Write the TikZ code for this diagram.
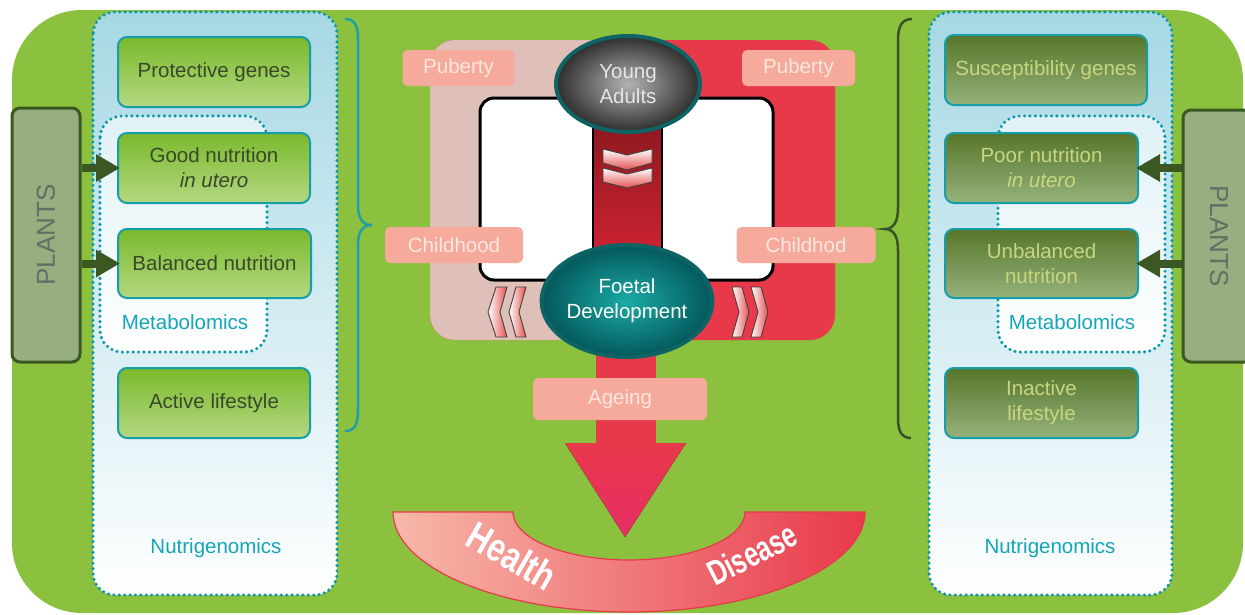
\documentclass[tikz,border=0pt]{standalone}
\usepackage{fontspec}
\setmainfont{Liberation Sans}
\usetikzlibrary{shapes.geometric,arrows.meta}
\definecolor{bggreen}{RGB}{139,193,63}
\definecolor{tealb}{RGB}{22,158,168}
\definecolor{dotc}{RGB}{10,150,172}
\definecolor{lblue}{RGB}{166,216,228}
\definecolor{boxtop}{RGB}{122,186,44}
\definecolor{boxbot}{RGB}{180,216,130}
\definecolor{boxtext}{RGB}{58,72,42}
\definecolor{dboxtop}{RGB}{86,118,42}
\definecolor{dboxbot}{RGB}{150,178,124}
\definecolor{dboxtext}{RGB}{200,214,126}
\definecolor{plantfill}{RGB}{150,174,128}
\definecolor{plantdraw}{RGB}{60,88,34}
\definecolor{planttext}{RGB}{100,110,100}
\definecolor{metatext}{RGB}{20,165,182}
\definecolor{beige}{RGB}{222,192,184}
\definecolor{cred}{RGB}{232,57,74}
\definecolor{darkred}{RGB}{130,22,28}
\definecolor{midred}{RGB}{208,36,50}
\definecolor{pinklbl}{RGB}{245,170,155}
\definecolor{pinktext}{RGB}{252,230,224}
\definecolor{ellb}{RGB}{14,100,100}
\definecolor{arcpink}{RGB}{247,184,170}
\definecolor{bracel}{RGB}{30,160,165}
\definecolor{bracer}{RGB}{58,82,40}
\definecolor{chevred}{RGB}{228,80,80}
\definecolor{tipred}{RGB}{230,45,100}
\begin{document}
\begin{tikzpicture}[x=1pt,y=-1pt,
  txt/.style={font=\fontsize{20.5}{25}\selectfont},
  gbox/.style={txt, draw=tealb, line width=2pt, rounded corners=9pt, top color=boxtop, bottom color=boxbot, text=boxtext, align=center, inner sep=0pt},
  dbox/.style={txt, draw=tealb, line width=2pt, rounded corners=9pt, top color=dboxtop, bottom color=dboxbot, text=dboxtext, align=center, inner sep=0pt},
  dotbox/.style={draw=dotc, line width=3.4pt, dash pattern=on 0pt off 5.4pt, line cap=round, rounded corners=22pt},
  plantsbox/.style={draw=plantdraw, line width=3pt, fill=plantfill, rounded corners=8pt, text=planttext, font=\fontsize{26}{28}\selectfont, inner sep=0pt},
  parrow/.style={draw=plantdraw, line width=8pt, -{Triangle[length=24pt,width=26pt]}},
  metat/.style={txt, text=metatext},
  lbl/.style={txt, fill=pinklbl, rounded corners=5pt, text=pinktext, inner sep=0pt, minimum height=36pt},
  chev/.style={draw=black!75, line width=0.9pt},
  ell/.style={ellipse, txt, inner sep=0pt, draw=ellb, line width=4pt, align=center}
]
\useasboundingbox (0,0) rectangle (1245,614);
\clip (0,0) rectangle (1245,614);
% background
\fill[white] (0,0) rectangle (1245,614);
\fill[bggreen, rounded corners=70pt] (12,10) rectangle (1243,613);

% ---------- left panel ----------
\draw[dotbox, top color=lblue, middle color=lblue!40!white, bottom color=white] (93,12) rectangle (337,595);
\draw[dotbox, top color=lblue!35!white, bottom color=white] (100,116) rectangle (267,352);
\node[gbox, minimum width=192pt, minimum height=70pt] (pg) at (214,72) {Protective genes};
\node[gbox, minimum width=192pt, minimum height=70pt] (gn) at (214,168) {Good nutrition\\\textit{in utero}};
\node[gbox, minimum width=193pt, minimum height=69pt] (bn) at (214.5,263.5) {Balanced nutrition};
\node[gbox, minimum width=192pt, minimum height=70pt] (al) at (214,403) {Active lifestyle};
\node[metat] (metaL) at (185,322) {Metabolomics};
\node[metat] (nutriL) at (216,548) {Nutrigenomics};
\node[plantsbox, minimum width=68pt, minimum height=254pt] (plL) at (46,235) {\rotatebox{90}{PLANTS}};
\draw[parrow] (plL.east |- gn) -- ([xshift=3pt]gn.west);
\draw[parrow] (plL.east |- bn) -- ([xshift=3pt]bn.west);
% left brace
\draw[bracel, line width=2.5pt] (345,19) .. controls (355,19) and (358,26) .. (358,40) -- (358,205)
  .. controls (358,218) and (362,225) .. (372,225) .. controls (362,225) and (358,232) .. (358,245)
  -- (358,410) .. controls (358,424) and (355,431) .. (345,431);

% ---------- right panel ----------
\draw[dotbox, top color=lblue, middle color=lblue!40!white, bottom color=white] (929,12) rectangle (1172,595);
\draw[dotbox, top color=lblue!35!white, bottom color=white] (998,116) rectangle (1165,352);
\node[dbox, minimum width=202pt, minimum height=70pt] (sg) at (1046,70) {Susceptibility genes};
\node[dbox, minimum width=193pt, minimum height=70pt] (pn) at (1041.5,168) {Poor nutrition\\\textit{in utero}};
\node[dbox, minimum width=193pt, minimum height=69pt] (un) at (1041.5,263.5) {Unbalanced\\nutrition};
\node[dbox, minimum width=193pt, minimum height=70pt] (il) at (1041.5,403) {Inactive\\lifestyle};
\node[metat] (metaR) at (1072,322) {Metabolomics};
\node[metat] (nutriR) at (1050,548) {Nutrigenomics};
\node[plantsbox, minimum width=72pt, minimum height=252pt] (plR) at (1219,236) {\rotatebox{-90}{PLANTS}};
\draw[parrow] (plR.west |- pn) -- ([xshift=-3pt]pn.east);
\draw[parrow] (plR.west |- un) -- ([xshift=-3pt]un.east);
% right brace
\draw[bracer, line width=2.5pt] (912,19) .. controls (902,19) and (898,26) .. (898,40) -- (898,208)
  .. controls (898,221) and (894,229) .. (885,229) .. controls (894,229) and (898,237) .. (898,250)
  -- (898,418) .. controls (898,432) and (902,438) .. (911,438);

% ---------- centre ----------
\fill[cred, rounded corners=25pt] (430,40) rectangle (835,340);
\begin{scope}
  \clip (420,30) rectangle (628,350);
  \fill[beige, rounded corners=25pt] (430,40) rectangle (835,340);
\end{scope}
\draw[black, line width=3pt, fill=white, rounded corners=14pt] (480,98) rectangle (773,280);
\draw[black, line width=1.5pt, top color=darkred, bottom color=midred] (593,98) rectangle (662,262);
% chevrons in band
\draw[chev, top color=white, bottom color=chevred] (603,149) -- (627,155) -- (652,149) -- (652,163) -- (627,170) -- (603,163) -- cycle;
\draw[chev, top color=white, bottom color=chevred] (603,168) -- (627,174) -- (652,168) -- (652,182) -- (627,188) -- (603,182) -- cycle;
% side chevrons
\draw[chev, left color=white, right color=chevred] (496,287) -- (507,287) -- (500,312) -- (507,337) -- (496,337) -- (488,312) -- cycle;
\draw[chev, left color=white, right color=chevred] (516,287) -- (526,287) -- (519,312) -- (526,337) -- (516,337) -- (509,312) -- cycle;
\draw[chev, left color=white, right color=chevred] (732,287) -- (742,287) -- (749,312) -- (742,337) -- (732,337) -- (739,312) -- cycle;
\draw[chev, left color=white, right color=chevred] (751,287) -- (761,287) -- (768,312) -- (761,337) -- (751,337) -- (758,312) -- cycle;
% ageing arrow
\fill[cred] (596,330) rectangle (656,444);
\fill[top color=cred, middle color=cred, bottom color=tipred] (565,443) -- (686,443) -- (625,537) -- cycle;
% ellipses
\node[ell, minimum width=144pt, minimum height=96pt, inner color=black!30, outer color=black!82, text=white!90!black] (ya) at (628,84) {Young\\Adults};
\node[ell, minimum width=160pt, minimum height=112pt, inner color={rgb,255:red,26;green,170;blue,166}, outer color={rgb,255:red,4;green,88;blue,90}, text=white] (fd) at (627,301) {Foetal\\Development};
% labels
\node[lbl, minimum width=112pt] (pubL) at (458.5,68) {Puberty};
\node[lbl, minimum width=113pt] (pubR) at (798.5,68) {Puberty};
\node[lbl, minimum width=138pt] (chL) at (454,245) {Childhood};
\node[lbl, minimum width=139pt] (chR) at (806,245) {Childhod};
\node[lbl, minimum width=174pt, minimum height=42pt] (age) at (620,399) {Ageing};
% health / disease arc
\draw[cred, line width=1.2pt, left color=arcpink, right color=cred] (393,512) -- (513,512)
  arc[start angle=180, end angle=0, x radius=116, y radius=48] -- (865,512)
  arc[start angle=0, end angle=180, x radius=236, y radius=100] -- cycle;
\node[rotate=-30, text=white, font=\bfseries\fontsize{40}{42}\selectfont] (health) at (512,556)
  {\scalebox{0.78}[1]{Health}};
\node[rotate=27, text=white, font=\bfseries\fontsize{35}{37}\selectfont] (disease) at (752,554)
  {\scalebox{0.72}[1]{Disease}};
\end{tikzpicture}
\end{document}
